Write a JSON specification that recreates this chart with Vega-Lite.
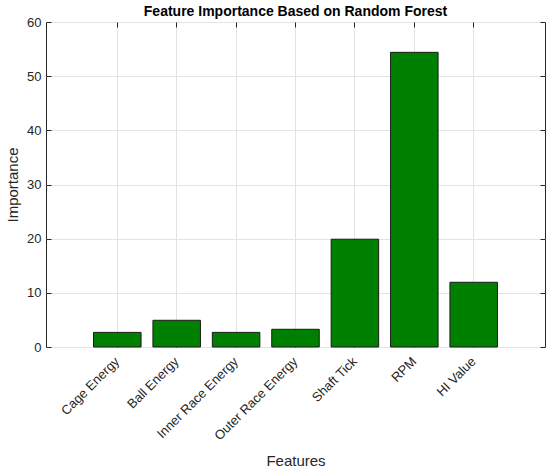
{
  "$schema": "https://vega.github.io/schema/vega-lite/v6.json",
  "width": 499,
  "height": 325,
  "autosize": {"type": "none"},
  "padding": {"left": 46, "top": 22, "right": 5, "bottom": 128},
  "background": "white",
  "config": {
    "font": "Liberation Sans",
    "view": {"stroke": "#262626", "strokeWidth": 1},
    "axis": {"labelColor": "#262626", "titleColor": "#262626", "labelFont": "Liberation Sans", "titleFont": "Liberation Sans", "titleFontWeight": "normal"}
  },
  "title": {
    "text": "Feature Importance Based on Random Forest",
    "fontSize": 14,
    "fontWeight": "bold",
    "color": "black",
    "anchor": "middle",
    "offset": -3,
    "font": "Liberation Sans"
  },
  "data": {
    "values": [
      {"feature": "Cage Energy", "importance": 2.7},
      {"feature": "Ball Energy", "importance": 4.93},
      {"feature": "Inner Race Energy", "importance": 2.7},
      {"feature": "Outer Race Energy", "importance": 3.27},
      {"feature": "Shaft Tick", "importance": 19.9},
      {"feature": "RPM", "importance": 54.4},
      {"feature": "HI Value", "importance": 11.95}
    ]
  },
  "layer": [
    {
      "mark": {"type": "bar", "color": "#008000", "stroke": "#1a1a1a", "strokeWidth": 1},
      "encoding": {
        "x": {
          "field": "feature", "type": "nominal", "sort": null,
          "scale": {"paddingInner": 0.2, "paddingOuter": 0.8},
          "axis": {
            "title": "Features", "titleFontSize": 15, "titlePadding": 11,
            "labelAngle": -45, "labelAlign": "right", "labelBaseline": "middle",
            "labelFontSize": 13, "labelPadding": 17,
            "grid": true, "gridColor": "#e3e3e3", "bandPosition": 0.5,
            "tickSize": -5, "tickColor": "#262626", "domain": false
          }
        },
        "y": {
          "field": "importance", "type": "quantitative",
          "scale": {"domain": [0, 60], "nice": false},
          "axis": {
            "title": "Importance", "titleFontSize": 15, "titlePadding": 6,
            "values": [0, 10, 20, 30, 40, 50, 60],
            "labelFontSize": 13, "labelPadding": 10,
            "grid": true, "gridColor": "#e3e3e3",
            "tickSize": -5, "tickColor": "#262626", "domain": false
          }
        }
      }
    },
    {
      "mark": {"type": "bar", "opacity": 0},
      "encoding": {
        "x": {
          "field": "feature", "type": "nominal", "sort": null,
          "axis": {"orient": "top", "title": null, "labels": false, "grid": false, "bandPosition": 0.5, "tickSize": -5, "tickColor": "#262626", "domain": false}
        },
        "y": {
          "field": "importance", "type": "quantitative",
          "axis": {"orient": "right", "title": null, "labels": false, "grid": false, "values": [0, 10, 20, 30, 40, 50, 60], "tickSize": -5, "tickColor": "#262626", "domain": false}
        }
      }
    }
  ],
  "resolve": {"axis": {"x": "independent", "y": "independent"}}
}
